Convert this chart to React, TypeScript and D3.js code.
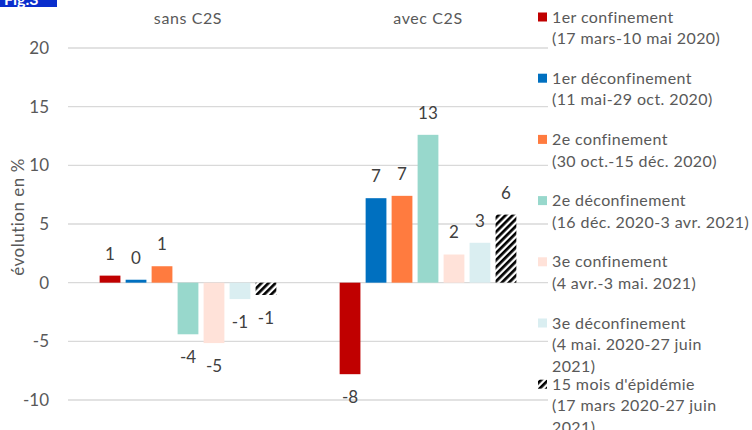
import React, { useEffect } from 'react';
import * as d3 from 'd3';

const categories = ['sans C2S', 'avec C2S'];
const seriesNames = [
  ['1er confinement', '(17 mars-10 mai 2020)'],
  ['1er déconfinement', '(11 mai-29 oct. 2020)'],
  ['2e confinement', '(30 oct.-15 déc. 2020)'],
  ['2e déconfinement', '(16 déc. 2020-3 avr. 2021)'],
  ['3e confinement', '(4 avr.-3 mai. 2021)'],
  ['3e déconfinement', '(4 mai. 2020-27 juin', '2021)'],
  ["15 mois d'épidémie", '(17 mars 2020-27 juin', '2021)'],
];
const sansC2S = [0.6, 0.25, 1.4, -4.4, -5.15, -1.4, -1.05];
const avecC2S = [-7.8, 7.2, 7.4, 12.6, 2.4, 3.4, 5.8];
const yTicks = [-10, -5, 0, 5, 10, 15, 20];
const colors = ['#C00000', '#0070C0', '#FF7B3F', '#98D8CC', '#FFE2D9', '#DAEEF1', 'url(#hatch)'];

const W = 752;
const H = 430;
const FONT = 'Lato, "Open Sans", sans-serif';

export default function App() {
  useEffect(() => {
    document.body.style.margin = '0';
  }, []);

  const values = [sansC2S, avecC2S];
  const x0 = d3.scaleBand<string>().domain(categories).range([68, 548]).paddingInner(0.242).paddingOuter(0.121);
  const x1 = d3.scaleBand<number>().domain(d3.range(seriesNames.length)).range([0, x0.bandwidth()]).paddingInner(0.2).paddingOuter(0.1);
  const y = d3.scaleLinear().domain([-10, 20]).range([400, 48]);

  return (
    <svg width={W} height={H} style={{ display: 'block', fontFamily: FONT }}>
      <defs>
        <pattern id="hatch" patternUnits="userSpaceOnUse" width={5} height={5} patternTransform="rotate(45)">
          <rect width={5} height={5} fill="#fff" />
          <rect width={2.7} height={5} fill="#000" />
        </pattern>
      </defs>
      <rect width={W} height={H} fill="#fff" />

      {/* figure tag, cut at the top as in the source */}
      <rect x={0} y={-12} width={57} height={19} fill="#0A2ECC" />
      <text x={4} y={5} fill="#fff" fontSize={16} fontWeight="bold">Fig.3</text>

      {yTicks.map(t => (
        <g key={t}>
          <line x1={68} x2={548} y1={y(t)} y2={y(t)} stroke="#D9D9D9" strokeWidth={1.3} />
          <text x={49} y={y(t)} dy="0.35em" textAnchor="end" fontSize={17} fill="#595959">{t}</text>
        </g>
      ))}

      <text transform={`translate(18,217) rotate(-90)`} textAnchor="middle" dy="0.35em" fontSize={17} letterSpacing={0.5} fill="#595959">évolution en %</text>

      {categories.map((c, ci) => (
        <g key={c} transform={`translate(${x0(c)},0)`}>
          <text x={x0.bandwidth() / 2} y={18} dy="0.35em" textAnchor="middle" fontSize={16} letterSpacing={0.6} fill="#595959">{c}</text>
          {values[ci].map((v, i) => {
            const top = y(Math.max(0, v));
            const bottom = y(Math.min(0, v));
            const bx = x1(i)!;
            const ly = v >= 0 ? top - 22 : bottom + 23;
            return (
              <g key={i}>
                <rect x={bx} y={top} width={x1.bandwidth()} height={bottom - top} fill={colors[i]} />
                <text x={bx + x1.bandwidth() / 2} y={ly} dy="0.35em" textAnchor="middle" fontSize={17} fill="#404040">
                  {Math.round(v)}
                </text>
              </g>
            );
          })}
        </g>
      ))}

      {seriesNames.map((lines, i) => {
        const cy = 17 + i * 61.2;
        return (
          <g key={i}>
            <rect x={538} y={cy - 4.5} width={9} height={9} fill={colors[i]} />
            {lines.map((l, li) => (
              <text key={li} x={552} y={cy + li * 21.5} dy="0.35em" fontSize={16} letterSpacing={0.4} fill="#595959">{l}</text>
            ))}
          </g>
        );
      })}
    </svg>
  );
}
